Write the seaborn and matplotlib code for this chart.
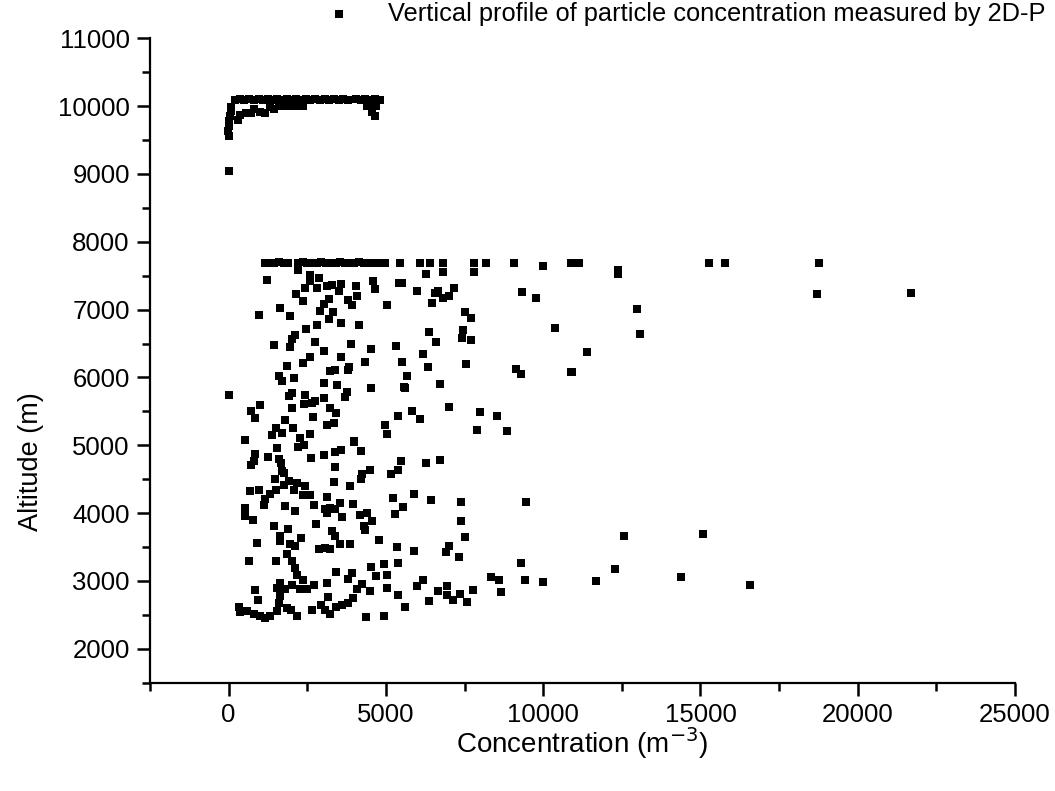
import numpy as np
import pandas as pd
import matplotlib
matplotlib.use("Agg")
import matplotlib.pyplot as plt
from matplotlib.ticker import MultipleLocator
import seaborn as sns

sns.set_style("ticks")
plt.rcParams['font.family'] = ['Liberation Sans', 'DejaVu Sans']

# ---- data (concentration m^-3, altitude m) ----
# cloud top layer near 10 km
top_conc = [200, 350, 500, 650, 800, 950, 1100, 1250, 1400, 1550, 1700, 1850, 2000,
            2150, 2300, 2450, 2600, 2750, 2900, 3050, 3200, 3350, 3500, 3650, 3800,
            4050, 4200, 4350, 4500, 4650, 4800,
            -30, 0, 20, 40, 60, 80,
            300, 350, 550, 700, 800, 1000, 1150, 1300, 1450, 1600, 1850, 2000, 2200, 2350,
            4400, 4550, 4700, 4550, 4650,
            0, 0]
top_alt = [10095, 10100, 10090, 10100, 10095, 10100, 10090, 10100, 10095, 10100, 10090, 10100, 10095,
           10100, 10090, 10100, 10095, 10100, 10090, 10100, 10095, 10100, 10090, 10100, 10095,
           10100, 10095, 10100, 10090, 10100, 10095,
           9640, 9700, 9780, 9850, 9930, 9990,
           9800, 9870, 9900, 9900, 9960, 9910, 9900, 9980, 9960, 10000, 10000, 10000, 10000, 10000,
           10000, 10000, 10000, 9920, 9850,
           9565, 9050]

# flat band at about 7690 m
band_conc = [1150, 1300, 1450, 1600, 1750, 1900, 2200, 2350, 2500, 2650, 2800, 2950,
             3100, 3250, 3400, 3550, 3700, 3850, 4000, 4150, 4300, 4450, 4600, 4780,
             4980, 5450, 6070, 6410, 6800, 7805, 8185, 9075, 9990, 10900, 11150,
             15280, 15780, 18775]
band_alt = [7690, 7685, 7690, 7695, 7690, 7685, 7690, 7695, 7690, 7685, 7690, 7695,
            7690, 7685, 7690, 7695, 7690, 7685, 7690, 7695, 7690, 7685, 7690, 7690,
            7690, 7690, 7690, 7690, 7690, 7690, 7690, 7690, 7640, 7690, 7690,
            7690, 7690, 7690]

# scattered profile between 2400 and 7600 m
main_conc = [
    2200, 2575, 2860, 1220, 2575, 2435, 2810, 3125, 3285, 3580, 3515, 4045, 4605, 4660,
    5430, 2140, 2365, 4080, 3790, 3920, 3175, 3040, 5050, 1620, 2915, 3305, 955, 1940,
    3175, 3580, 4150, 2810, 2470, 2120, 2015, 1430, 1960, 2755, 3020, 3900, 4535, 5330,
    2595, 2350, 1855, 3570, 4345, 5510, 3230, 3370, 3835, 3790, 1590, 1695, 2090, 3030,
    3445, 4535, 5560, 0, 2015, 1930, 2435, 2755, 3040, 2385, 2650, 3760, 3685, 1005,
    720, 2015, 3210, 3400, 2680, 825, 1800, 5380,
    3125, 3335, 4980, 5050, 510, 1505, 1380, 1695, 2045, 2255, 2200, 2385, 2575, 1535,
    850, 720, 795, 1250, 1590, 1665, 2615, 3020, 3390, 3580, 3970, 4000, 4205, 5475,
    3370, 1695, 1745, 1485, 1905, 2170, 2435, 2065, 1745, 1515, 1325, 1165, 1110, 975,
    665, 510, 530, 765, 3335, 3845, 4205, 4240, 4480, 5170, 5380, 2350, 2575, 3125,
    3550, 3950, 5240, 5530, 5295, 1780, 2120, 2700, 3070, 3230, 3390, 3125, 3600, 4185,
    4395, 4555, 4290, 4345, 4790, 5350, 2785, 1450, 1885, 1640, 1640, 1960, 2120, 2310,
    900, 3285, 3370, 3550, 3865, 2860, 3070, 3230, 1855, 635,
    1505, 2015, 2100, 2170, 2350, 3420, 3920, 3790, 4240, 4525, 4680, 4945, 5050, 5380,
    3125, 1640, 1535, 1800, 2015, 2275, 2490, 2700, 825, 935, 1640, 1590, 1855, 1990,
    2170, 2650, 320, 370, 585, 795, 1005, 1165, 1325, 1535, 2945, 3160, 3070, 3230,
    3410, 3600, 3790, 3950, 4080, 4500, 5030, 5380, 4375, 4925,
    5510, 5985, 6565, 6670, 6830, 7020, 7170, 6460, 9330, 9775, 7520, 7710, 10380, 6385,
    6600, 7465, 7415, 7710, 6175, 6335, 7540, 5665, 5615, 6725, 9130, 9300, 10885, 5835,
    6070, 7000, 7990, 8525, 7890, 8865, 6800, 6280, 7805,
    6280, 6705, 5880, 6430, 7390, 9450, 7390, 7500, 6990, 6915, 7330, 5900, 9290, 6175,
    5985, 8340, 8600, 9425, 9990, 8665, 7765, 6670, 6935, 6935, 7130, 7360, 7570, 6385,
    5615, 12380, 12380, 18690, 21700, 12970, 13080, 11385, 10910,
    12580, 15070, 12285, 11680, 14380, 16570]
main_alt = [
    7590, 7515, 7465, 7440, 7415, 7320, 7320, 7345, 7370, 7385, 7270, 7350, 7415, 7305,
    7390, 7235, 7130, 7205, 7145, 7070, 7155, 7085, 7070, 7030, 6985, 6960, 6925, 6910,
    6860, 6810, 6780, 6780, 6715, 6630, 6565, 6480, 6445, 6520, 6385, 6490, 6420, 6470,
    6300, 6210, 6175, 6295, 6235, 6235, 6090, 6105, 6155, 6105, 6015, 5945, 5990, 5925,
    5895, 5845, 5860, 5740, 5770, 5720, 5745, 5650, 5700, 5615, 5625, 5780, 5705, 5590,
    5510, 5550, 5550, 5480, 5410, 5400, 5375, 5425,
    5305, 5330, 5305, 5170, 5075, 5255, 5145, 5185, 5255, 5110, 4975, 5000, 5160, 4960,
    4865, 4715, 4765, 4830, 4800, 4740, 4815, 4850, 4905, 4935, 5050, 5060, 4920, 4765,
    4675, 4615, 4595, 4505, 4480, 4445, 4405, 4345, 4420, 4345, 4275, 4210, 4125, 4335,
    4320, 4080, 3955, 3905, 4455, 4395, 4505, 4580, 4640, 4570, 4630, 4260, 4260, 4240,
    4150, 4135, 4225, 4090, 3980, 4110, 4030, 4115, 4060, 4075, 4055, 3995, 3940, 3965,
    4005, 3880, 3805, 3750, 3610, 3505, 3840, 3805, 3760, 3670, 3585, 3540, 3510, 3635,
    3565, 3735, 3670, 3550, 3550, 3470, 3490, 3465, 3400, 3300,
    3300, 3295, 3195, 3095, 3020, 3135, 3110, 3030, 2960, 3205, 3080, 3245, 3095, 3270,
    2975, 2975, 2900, 2875, 2935, 2885, 2875, 2935, 2865, 2725, 2775, 2680, 2605, 2565,
    2490, 2565, 2620, 2540, 2555, 2520, 2485, 2460, 2490, 2555, 2650, 2760, 2570, 2520,
    2615, 2640, 2670, 2750, 2875, 2850, 2890, 2800, 2470, 2485,
    7390, 7280, 7245, 7270, 7170, 7205, 7320, 7100, 7255, 7170, 6960, 6875, 6730, 6665,
    6525, 6695, 6580, 6545, 6345, 6155, 6200, 6015, 5845, 5900, 6125, 6045, 6080, 5500,
    5390, 5560, 5490, 5435, 5230, 5215, 7560, 7525, 7550,
    4740, 4780, 4280, 4200, 4165, 4165, 3890, 3645, 3520, 3425, 3350, 3440, 3270, 3010,
    2925, 3060, 3010, 3010, 2985, 2840, 2865, 2850, 2925, 2790, 2720, 2815, 2690, 2700,
    2620, 7580, 7530, 7234, 7240, 7010, 6645, 6370, 6075,
    3660, 3685, 3180, 2993, 3055, 2945]

conc = top_conc + band_conc + main_conc
alt = top_alt + band_alt + main_alt
df = pd.DataFrame({"conc": conc, "alt": alt})

fig = plt.figure(figsize=(10.55, 7.91), dpi=100)
ax = fig.add_axes([150 / 1055, 1 - 682.7 / 791, (1015 - 150) / 1055, (682.7 - 38.3) / 791])

sns.scatterplot(data=df, x="conc", y="alt", ax=ax, marker="s", color="black",
                s=28, linewidth=0, label="Vertical profile of particle concentration measured by 2D-P")

ax.set_xlim(-2500, 25000)
ax.set_ylim(1500, 11000)
ax.xaxis.set_major_locator(MultipleLocator(5000))
ax.xaxis.set_minor_locator(MultipleLocator(2500))
ax.yaxis.set_major_locator(MultipleLocator(1000))
ax.yaxis.set_minor_locator(MultipleLocator(500))
ax.tick_params(which="major", direction="out", length=9.5, width=1.8, labelsize=18.5,
               pad=5, color="black", labelcolor="black")
ax.tick_params(which="minor", direction="out", length=5.5, width=1.8, color="black")
for side in ["top", "right"]:
    ax.spines[side].set_visible(False)
for side in ["left", "bottom"]:
    ax.spines[side].set_linewidth(1.6)
    ax.spines[side].set_color("black")

ax.set_xlabel("Concentration (m$^{-3}$)", fontsize=20, color="black")
ax.set_ylabel("Altitude (m)", fontsize=19.5, color="black")
ax.xaxis.set_label_coords(0.5, -0.066)
ax.yaxis.set_label_coords(-0.122, 0.343)

ax.legend(loc="upper right", bbox_to_anchor=(1045 / 1055, 1 - 2 / 791),
          bbox_transform=fig.transFigure, frameon=False, fontsize=18.3,
          handletextpad=0.9, borderpad=0, borderaxespad=0, markerscale=1.2,
          labelcolor="black")

fig.savefig("out.png", dpi=100)
